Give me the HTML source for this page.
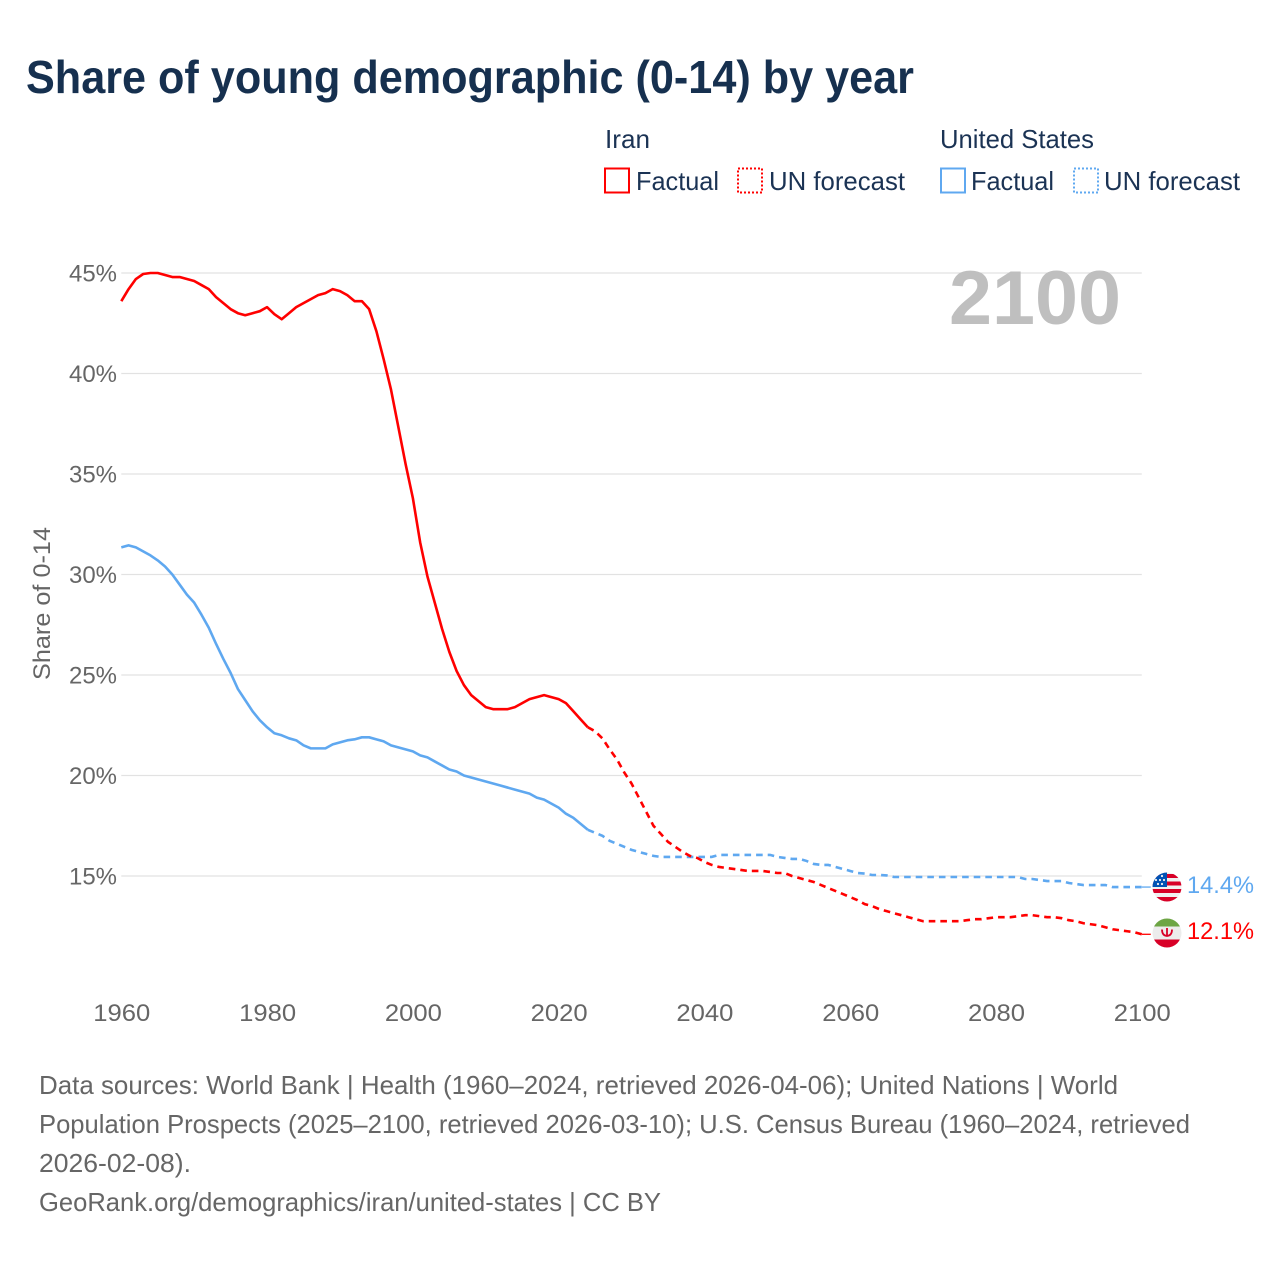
<!DOCTYPE html>
<html lang="en">
<head>
<meta charset="utf-8">
<title>Share of young demographic (0-14) by year</title>
<style>
  html, body { margin: 0; padding: 0; background: #fff; }
  svg { display: block; font-family: "Liberation Sans", sans-serif; }
</style>
</head>
<body>
<svg id="chart" xmlns="http://www.w3.org/2000/svg" width="1280" height="1280" viewBox="0 0 1280 1280">
  <rect x="0" y="0" width="1280" height="1280" fill="#ffffff"/>
  <defs>
    <clipPath id="us-clip"><circle cx="1167" cy="887" r="14.5"/></clipPath>
    <clipPath id="ir-clip"><circle cx="1167" cy="933" r="14.5"/></clipPath>
  </defs>

  <text x="26" y="93" font-size="46" font-weight="700" fill="#16304f" textLength="888" lengthAdjust="spacingAndGlyphs">Share of young demographic (0-14) by year</text>

  <g font-size="26" fill="#1b3354">
    <text x="605" y="148" textLength="45" lengthAdjust="spacingAndGlyphs">Iran</text>
    <text x="940" y="148" textLength="154" lengthAdjust="spacingAndGlyphs">United States</text>

    <g>
      <rect x="605" y="168.5" width="24" height="24" fill="none" stroke="#ff0000" stroke-width="2"/>
      <text x="636" y="190" textLength="83" lengthAdjust="spacingAndGlyphs">Factual</text>
    </g>
    <g>
      <rect x="738" y="168.5" width="24" height="24" fill="none" stroke="#ff0000" stroke-width="2" stroke-dasharray="2 2"/>
      <text x="769" y="190" textLength="136" lengthAdjust="spacingAndGlyphs">UN forecast</text>
    </g>
    <g>
      <rect x="941" y="168.5" width="24" height="24" fill="none" stroke="#5fa8f0" stroke-width="2"/>
      <text x="971" y="190" textLength="83" lengthAdjust="spacingAndGlyphs">Factual</text>
    </g>
    <g>
      <rect x="1074" y="168.5" width="24" height="24" fill="none" stroke="#5fa8f0" stroke-width="2" stroke-dasharray="2 2"/>
      <text x="1104" y="190" textLength="136" lengthAdjust="spacingAndGlyphs">UN forecast</text>
    </g>
  </g>

  <g id="grid"></g>
  <g id="y-ticks" font-size="24" fill="#666666" text-anchor="end"></g>
  <g id="x-ticks" font-size="24" fill="#666666" text-anchor="middle"></g>

  <text transform="translate(50,603.5) rotate(-90)" font-size="24" fill="#666666" text-anchor="middle" textLength="153" lengthAdjust="spacingAndGlyphs">Share of 0-14</text>

  <text x="949" y="324" font-size="76" font-weight="700" fill="#bfbfbf" textLength="172" lengthAdjust="spacingAndGlyphs">2100</text>

  <g id="series"></g>

  <g clip-path="url(#us-clip)">
    <rect x="1152" y="872" width="30" height="30" fill="#f0f0f0"/>
    <rect x="1152" y="874" width="30" height="4" fill="#d80027"/>
    <rect x="1152" y="881.5" width="30" height="4" fill="#d80027"/>
    <rect x="1152" y="889" width="30" height="4" fill="#d80027"/>
    <rect x="1152" y="897" width="30" height="5" fill="#d80027"/>
    <rect x="1152" y="872" width="15" height="15" fill="#0052b4"/>
    <g fill="#f0f0f0">
      <circle cx="1158" cy="884" r="1.1"/><circle cx="1162" cy="884" r="1.1"/>
      <circle cx="1160" cy="880" r="1.1"/><circle cx="1164" cy="880" r="1.1"/>
      <circle cx="1162" cy="876" r="1.1"/><circle cx="1156" cy="880" r="1.1"/>
    </g>
  </g>

  <g clip-path="url(#ir-clip)">
    <rect x="1152" y="918" width="30" height="30" fill="#ececec"/>
    <rect x="1152" y="918" width="30" height="8.5" fill="#6da544"/>
    <rect x="1152" y="939.5" width="30" height="9" fill="#d80027"/>
    <path d="M1162 929.5 q0 6 5 6.5 q5 -.5 5 -6.5 M1167 928 v8.5" fill="none" stroke="#d80027" stroke-width="1.8"/>
  </g>

  <text x="1187" y="893" font-size="24" fill="#5fa8f0" textLength="67" lengthAdjust="spacingAndGlyphs">14.4%</text>
  <text x="1187" y="939" font-size="24" fill="#ff0000" textLength="67" lengthAdjust="spacingAndGlyphs">12.1%</text>

  <g font-size="26" fill="#666666">
    <text x="39" y="1094" textLength="1079" lengthAdjust="spacingAndGlyphs">Data sources: World Bank | Health (1960–2024, retrieved 2026-04-06); United Nations | World</text>
    <text x="39" y="1133" textLength="1151" lengthAdjust="spacingAndGlyphs">Population Prospects (2025–2100, retrieved 2026-03-10); U.S. Census Bureau (1960–2024, retrieved</text>
    <text x="39" y="1172" textLength="152" lengthAdjust="spacingAndGlyphs">2026-02-08).</text>
    <text x="39" y="1211" textLength="622" lengthAdjust="spacingAndGlyphs">GeoRank.org/demographics/iran/united-states | CC BY</text>
  </g>
</svg>

<script>
var years = [
  1960,1961,1962,1963,1964,1965,1966,1967,1968,1969,
  1970,1971,1972,1973,1974,1975,1976,1977,1978,1979,
  1980,1981,1982,1983,1984,1985,1986,1987,1988,1989,
  1990,1991,1992,1993,1994,1995,1996,1997,1998,1999,
  2000,2001,2002,2003,2004,2005,2006,2007,2008,2009,
  2010,2011,2012,2013,2014,2015,2016,2017,2018,2019,
  2020,2021,2022,2023,2024,2025,2026,2027,2028,2029,
  2030,2031,2032,2033,2034,2035,2036,2037,2038,2039,
  2040,2041,2042,2043,2044,2045,2046,2047,2048,2049,
  2050,2051,2052,2053,2054,2055,2056,2057,2058,2059,
  2060,2061,2062,2063,2064,2065,2066,2067,2068,2069,
  2070,2071,2072,2073,2074,2075,2076,2077,2078,2079,
  2080,2081,2082,2083,2084,2085,2086,2087,2088,2089,
  2090,2091,2092,2093,2094,2095,2096,2097,2098,2099,
  2100
];
var iranValues = [
  43.6,44.2,44.7,44.95,45.0,45.0,44.9,44.8,44.8,44.7,
  44.6,44.4,44.2,43.8,43.5,43.2,43.0,42.9,43.0,43.1,
  43.3,42.95,42.7,43.0,43.3,43.5,43.7,43.9,44.0,44.2,
  44.1,43.9,43.6,43.6,43.2,42.1,40.7,39.2,37.35,35.5,
  33.8,31.6,29.9,28.6,27.3,26.15,25.2,24.5,24.0,23.7,
  23.4,23.3,23.3,23.3,23.4,23.6,23.8,23.9,24.0,23.9,
  23.8,23.6,23.2,22.8,22.4,22.2,21.85,21.3,20.8,20.15,
  19.6,18.9,18.2,17.5,17.1,16.7,16.45,16.2,16.0,15.9,
  15.7,15.55,15.45,15.4,15.35,15.3,15.25,15.25,15.25,15.2,
  15.15,15.15,15.0,14.9,14.8,14.7,14.55,14.4,14.25,14.1,
  13.95,13.8,13.6,13.5,13.35,13.25,13.15,13.05,12.95,12.85,
  12.75,12.75,12.75,12.75,12.75,12.75,12.8,12.85,12.85,12.9,
  12.95,12.95,12.95,13.0,13.05,13.05,13.0,12.95,12.95,12.9,
  12.8,12.75,12.65,12.6,12.55,12.45,12.35,12.3,12.25,12.2,
  12.1
];
var usValues = [
  31.35,31.45,31.35,31.15,30.95,30.7,30.4,30.0,29.5,29.0,
  28.6,28.0,27.35,26.55,25.8,25.1,24.3,23.75,23.2,22.75,
  22.4,22.1,22.0,21.85,21.75,21.5,21.35,21.35,21.35,21.55,
  21.65,21.75,21.8,21.9,21.9,21.8,21.7,21.5,21.4,21.3,
  21.2,21.0,20.9,20.7,20.5,20.3,20.2,20.0,19.9,19.8,
  19.7,19.6,19.5,19.4,19.3,19.2,19.1,18.9,18.8,18.6,
  18.4,18.1,17.9,17.6,17.3,17.15,17.0,16.75,16.6,16.45,
  16.3,16.2,16.1,16.0,15.95,15.95,15.95,15.95,15.95,15.95,
  15.95,15.95,16.05,16.05,16.05,16.05,16.05,16.05,16.05,16.05,
  15.95,15.9,15.85,15.85,15.75,15.6,15.55,15.55,15.45,15.35,
  15.25,15.15,15.12,15.05,15.05,15.03,14.95,14.95,14.95,14.95,
  14.95,14.95,14.95,14.95,14.95,14.95,14.95,14.95,14.95,14.95,
  14.95,14.95,14.95,14.95,14.85,14.85,14.8,14.75,14.75,14.75,
  14.65,14.6,14.55,14.55,14.55,14.55,14.45,14.45,14.45,14.45,
  14.45
];
var yTickValues = [15, 20, 25, 30, 35, 40, 45];
var xTickValues = [1960, 1980, 2000, 2020, 2040, 2060, 2080, 2100];
var lastFactualYear = 2024;

var SVG_NS = 'http://www.w3.org/2000/svg';
var IRAN_COLOR = '#ff0000';
var US_COLOR = '#5fa8f0';

function xScale(year) {
  return 121.3 + (year - 1960) * (1020.5 / 140);
}
function yScale(value) {
  return 876 - (value - 15) * (603 / 30);
}
function buildPath(values, fromYear, toYear) {
  var d = '';
  for (var i = 0; i < years.length; i++) {
    if (years[i] < fromYear || years[i] > toYear) continue;
    d += (d ? 'L' : 'M') + xScale(years[i]).toFixed(2) + ' ' + yScale(values[i]).toFixed(2);
  }
  return d;
}

var gridGroup = document.getElementById('grid');
var yTickGroup = document.getElementById('y-ticks');
var xTickGroup = document.getElementById('x-ticks');
var seriesGroup = document.getElementById('series');

yTickValues.forEach(function (v) {
  var line = document.createElementNS(SVG_NS, 'line');
  
  
  line.setAttribute('x1', xScale(1960));
  line.setAttribute('x2', xScale(2100));
  line.setAttribute('y1', yScale(v));
  line.setAttribute('y2', yScale(v));
  line.setAttribute('stroke', '#e2e2e2');
  line.setAttribute('stroke-width', '1.3');
  gridGroup.appendChild(line);

  var label = document.createElementNS(SVG_NS, 'text');
  
  
  label.setAttribute('x', 117);
  label.setAttribute('y', yScale(v) + 8.5);
  label.setAttribute('textLength', 48);
  label.setAttribute('lengthAdjust', 'spacingAndGlyphs');
  label.textContent = v + '%';
  yTickGroup.appendChild(label);
});

xTickValues.forEach(function (t) {
  var label = document.createElementNS(SVG_NS, 'text');
  
  
  label.setAttribute('x', xScale(t) + 0.5);
  label.setAttribute('y', 1021);
  label.setAttribute('textLength', 57);
  label.setAttribute('lengthAdjust', 'spacingAndGlyphs');
  label.textContent = t;
  xTickGroup.appendChild(label);
});

function drawSeries(key, values, color) {
  var solid = document.createElementNS(SVG_NS, 'path');
  
  
  solid.setAttribute('d', buildPath(values, 1960, lastFactualYear));
  solid.setAttribute('fill', 'none');
  solid.setAttribute('stroke', color);
  solid.setAttribute('stroke-width', '2.6');
  solid.setAttribute('stroke-linejoin', 'round');
  seriesGroup.appendChild(solid);

  var dashed = document.createElementNS(SVG_NS, 'path');
  
  
  dashed.setAttribute('d', buildPath(values, lastFactualYear, 2100));
  dashed.setAttribute('fill', 'none');
  dashed.setAttribute('stroke', color);
  dashed.setAttribute('stroke-width', '2.6');
  dashed.setAttribute('stroke-dasharray', '6.6 5');
  seriesGroup.appendChild(dashed);

  var endY = yScale(values[years.indexOf(2100)]);
  var leader = document.createElementNS(SVG_NS, 'line');
  
  
  leader.setAttribute('x1', xScale(2100));
  leader.setAttribute('x2', xScale(2100) + 9);
  leader.setAttribute('y1', endY);
  leader.setAttribute('y2', endY);
  leader.setAttribute('stroke', color);
  leader.setAttribute('stroke-width', '1.3');
  seriesGroup.appendChild(leader);
}

drawSeries('united-states', usValues, US_COLOR);
drawSeries('iran', iranValues, IRAN_COLOR);
</script>
</body>
</html>
